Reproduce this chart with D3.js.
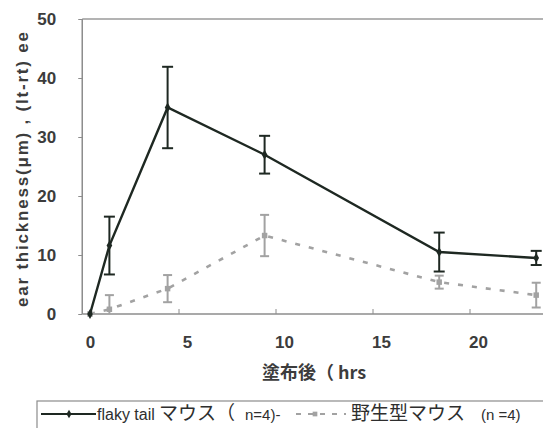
<!DOCTYPE html>
<html>
<head>
<meta charset="utf-8">
<script src="https://cdn.jsdelivr.net/npm/d3@7"></script>
<style>
  html, body { margin: 0; padding: 0; background: #fff; overflow: hidden; }
  text { font-family: "Liberation Sans", Arial, "Noto Sans CJK JP", sans-serif; }
</style>
</head>
<body>
<svg id="chart" width="543" height="428"></svg>
<script>
// 塗布後の時間 (hrs)
const hours = [0, 1, 4, 9, 18, 23]
// flaky tail マウス (n=4)
const flakyMean = [0, 11.6, 35.0, 27.0, 10.5, 9.5]
const flakyErr = [0, 4.9, 6.9, 3.2, 3.3, 1.2]
// 野生型マウス (n=4)
const wildMean = [0, 0.8, 4.3, 13.3, 5.4, 3.2]
const wildErr = [0, 2.4, 2.3, 3.5, 1.1, 2.1]

const xTicks = [0, 5, 10, 15, 20]
const yTicks = [0, 10, 20, 30, 40, 50]

const black = "#1e2822"
const grey = "#a2a2a2"
const axisColor = "#8c8c8c"
const cjk = "'Noto Sans CJK JP', sans-serif"

const svg = d3.select("#chart")

const x = d3.scaleLinear().domain([0, 23.35]).range([90, 543])
const y = d3.scaleLinear().domain([0, 50]).range([314, 19])

// 枠線 (左・上・下)
const xStart = x(-0.4)
svg.append("line").attr("x1", xStart).attr("x2", 560).attr("y1", y(50)).attr("y2", y(50))
    .attr("stroke", "#9a9a9a").attr("stroke-width", 1.5)
svg.append("line").attr("x1", xStart).attr("x2", xStart).attr("y1", y(50)).attr("y2", y(0))
    .attr("stroke", axisColor).attr("stroke-width", 1.5)
svg.append("line").attr("x1", xStart).attr("x2", 560).attr("y1", y(0)).attr("y2", y(0))
    .attr("stroke", axisColor).attr("stroke-width", 1.5)

// y 軸
const yAxis = svg.append("g").attr("transform", `translate(${xStart},0)`)
    .call(d3.axisLeft(y).tickValues(yTicks).tickSize(4).tickPadding(22))
yAxis.select(".domain").remove()
yAxis.selectAll(".tick line").attr("stroke", axisColor).attr("stroke-width", 1)
yAxis.selectAll(".tick text").attr("font-size", 17).attr("font-weight", "bold").attr("fill", "#3c3c3c")

// x 軸 (目盛り線は内側・少し左にずれている)
const xAxis = svg.append("g").attr("transform", `translate(0,${y(0)})`)
    .call(d3.axisBottom(x).tickValues(xTicks).tickSize(0).tickPadding(22))
xAxis.select(".domain").remove()
xAxis.selectAll(".tick text").attr("font-size", 17).attr("font-weight", "bold").attr("fill", "#3c3c3c")
svg.selectAll(".xtick").data(xTicks.slice(1)).enter().append("line")
    .attr("x1", d => x(d) - 8).attr("x2", d => x(d) - 8)
    .attr("y1", y(0)).attr("y2", y(0) - 5)
    .attr("stroke", axisColor).attr("stroke-width", 1)

// 軸タイトル
svg.append("text").attr("x", 262).attr("y", 379)
    .attr("font-size", 18).attr("font-weight", "bold").attr("fill", "#3c3c3c")
    .style("font-family", cjk)
    .text("塗布後（ hrs")
svg.append("text").attr("transform", "translate(28,307) rotate(-90)")
    .attr("font-size", 17).attr("font-weight", "bold").attr("fill", "#3c3c3c")
    .attr("textLength", 275).attr("lengthAdjust", "spacing")
    .text("ear thickness(μm) , (lt-rt) ee")

// 系列描画
function drawSeries(mean, err, color, width, dash, capW, marker) {
    const pts = hours.map((h, i) => ({ h, m: mean[i], e: err[i] }))
    const line = d3.line().x(d => x(d.h)).y(d => y(d.m))
    svg.append("path").datum(pts).attr("d", line)
        .attr("fill", "none").attr("stroke", color).attr("stroke-width", width)
        .attr("stroke-dasharray", dash)
    const eb = svg.append("g")
    pts.filter(d => d.e > 0).forEach(d => {
        const lo = y(Math.max(0, d.m - d.e)), hi = y(d.m + d.e)
        eb.append("line").attr("x1", x(d.h)).attr("x2", x(d.h)).attr("y1", lo).attr("y2", hi)
            .attr("stroke", color).attr("stroke-width", 2)
        ;[d.m + d.e, d.m - d.e].filter(v => v >= 0).forEach(v => {
            eb.append("line").attr("x1", x(d.h) - capW / 2).attr("x2", x(d.h) + capW / 2)
                .attr("y1", y(v)).attr("y2", y(v)).attr("stroke", color).attr("stroke-width", 2)
        })
    })
    svg.append("g").selectAll("path").data(pts).enter().append("path")
        .attr("d", d3.symbol().type(marker).size(marker === d3.symbolDiamond ? 28 : 30))
        .attr("transform", d => `translate(${x(d.h)},${y(d.m)})`)
        .attr("fill", color)
}

drawSeries(wildMean, wildErr, grey, 2.6, "5,9", 9, d3.symbolSquare)
drawSeries(flakyMean, flakyErr, black, 2.4, null, 11, d3.symbolDiamond)

// 凡例
const lg = svg.append("g")
lg.append("rect").attr("x", 37).attr("y", 401).attr("width", 530).attr("height", 40)
    .attr("fill", "none").attr("stroke", "#8c8c8c").attr("stroke-width", 1.2)
lg.append("line").attr("x1", 41).attr("x2", 96).attr("y1", 414).attr("y2", 414)
    .attr("stroke", black).attr("stroke-width", 2)
lg.append("path").attr("d", d3.symbol().type(d3.symbolDiamond).size(22)).attr("transform", "translate(69,414)").attr("fill", black)

function legendText(str, x0, size, family) {
    const t = lg.append("text").attr("x", x0).attr("y", 420).attr("font-size", size).attr("fill", "#2e2e2e").text(str)
    if (family) t.style("font-family", family)
}
legendText("flaky tail", 97, 16)
legendText("マウス（", 159, 19, cjk)
legendText("n=4)-", 245, 15)
lg.append("line").attr("x1", 296).attr("x2", 346).attr("y1", 414).attr("y2", 414)
    .attr("stroke", grey).attr("stroke-width", 2).attr("stroke-dasharray", "5,7")
lg.append("path").attr("d", d3.symbol().type(d3.symbolSquare).size(22)).attr("transform", "translate(315,414)").attr("fill", grey)
legendText("野生型マウス", 351, 19, cjk)
legendText("(n =4)", 481, 15)
</script>
</body>
</html>
